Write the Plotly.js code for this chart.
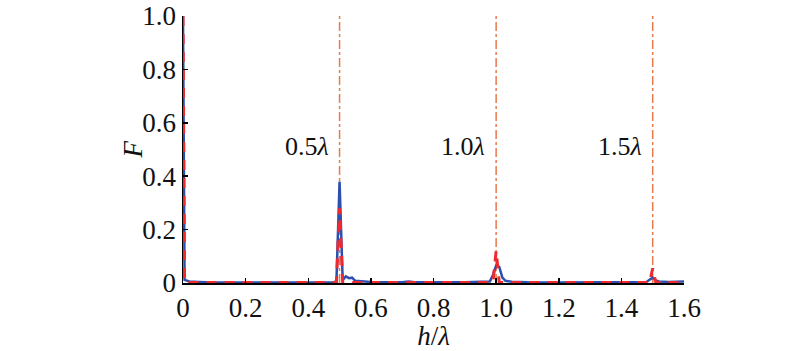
<!DOCTYPE html>
<html><head><meta charset="utf-8">
<script src="https://cdn.plot.ly/plotly-3.0.1.min.js"></script>
<style>body{margin:0;background:#fff}#c{width:800px;height:351px}</style>
</head><body><div id="c"></div>
<script>
const blueX = [0, 0.005, 0.01, 0.02, 0.05, 0.1, 0.2, 0.3, 0.4, 0.48, 0.49, 0.5, 0.51, 0.52, 0.53, 0.54, 0.55, 0.6, 0.7, 0.72, 0.74, 0.8, 0.9, 0.98, 0.99, 1.0, 1.01, 1.02, 1.03, 1.05, 1.1, 1.2, 1.3, 1.4, 1.48, 1.49, 1.5, 1.51, 1.52, 1.55, 1.6];
const blueY = [1.0, 0.012, 0.01, 0.006, 0.004, 0.002, 0.002, 0.002, 0.002, 0.003, 0.006, 0.38, 0.01, 0.025, 0.018, 0.02, 0.008, 0.004, 0.003, 0.006, 0.003, 0.002, 0.003, 0.006, 0.03, 0.065, 0.06, 0.02, 0.008, 0.005, 0.003, 0.002, 0.002, 0.002, 0.004, 0.012, 0.02, 0.01, 0.006, 0.004, 0.006];
const redX = [0, 0.005, 0.01, 0.05, 0.2, 0.4, 0.49, 0.5, 0.51, 0.6, 0.8, 0.99, 1.0, 1.01, 1.2, 1.4, 1.49, 1.5, 1.51, 1.6];
const redY = [1.0, 0.004, 0.002, 0.002, 0.002, 0.002, 0.002, 0.28, 0.002, 0.002, 0.002, 0.002, 0.12, 0.002, 0.002, 0.002, 0.002, 0.055, 0.002, 0.002];
const markX = [0.5, 1.0, 1.5];
const markLabels = ['0.5<i>λ</i>', '1.0<i>λ</i>', '1.5<i>λ</i>'];
const xTicks = [0, 0.2, 0.4, 0.6, 0.8, 1.0, 1.2, 1.4, 1.6];
const xTickText = ['0', '0.2', '0.4', '0.6', '0.8', '1.0', '1.2', '1.4', '1.6'];
const yTicks = [0, 0.2, 0.4, 0.6, 0.8, 1.0];
const yTickText = ['0', '0.2', '0.4', '0.6', '0.8', '1.0'];

const fam = '"Liberation Serif", "Times New Roman", serif';
const mk = s => ({family: fam, size: s, color: '#111'});

const traces = [
  {x: blueX, y: blueY, mode: 'lines', line: {color: '#2d4fb0', width: 2.5}, hoverinfo: 'skip'},
  {x: redX, y: redY, mode: 'lines', line: {color: '#ee2a2e', width: 3, dash: '10px,8px'}, hoverinfo: 'skip'}
];

const shapes = markX.map(v => ({type: 'line', xref: 'x', yref: 'y', x0: v, x1: v, y0: 0, y1: 1.0,
  line: {color: '#e87a4c', width: 1.5, dash: 'dashdot'}, layer: 'below'}));

const annotations = markX.map((v, i) => ({x: v, y: 0.51, xref: 'x', yref: 'y', text: markLabels[i],
  showarrow: false, xanchor: 'right', xshift: -9, font: mk(26)}));
annotations.push({x: 0, y: 0.5, xref: 'paper', yref: 'paper', text: '<i>F</i>', textangle: -90,
  showarrow: false, xanchor: 'center', yanchor: 'middle', xshift: -51, font: mk(27)});

const layout = {
  width: 800, height: 351,
  margin: {l: 183, r: 116, t: 16, b: 68},
  paper_bgcolor: '#fff', plot_bgcolor: '#fff',
  showlegend: false,
  font: mk(26),
  xaxis: {range: [0, 1.6], tickvals: xTicks, ticktext: xTickText, ticks: 'inside', ticklen: 5, tickwidth: 1.5,
    tickcolor: '#000', showline: true, linecolor: '#000', linewidth: 1.5, showgrid: false, zeroline: false,
    tickfont: mk(27), title: {text: '<i>h</i>/<i>λ</i>', font: mk(27), standoff: 0}},
  yaxis: {range: [0, 1.0], tickvals: yTicks, ticktext: yTickText, ticks: 'inside', ticklen: 5, tickwidth: 1.5,
    tickcolor: '#000', showline: true, linecolor: '#000', linewidth: 1.5, showgrid: false, zeroline: false,
    tickfont: mk(27)},
  shapes: shapes,
  annotations: annotations
};

Plotly.newPlot('c', traces, layout, {staticPlot: true});
</script>
</body></html>
